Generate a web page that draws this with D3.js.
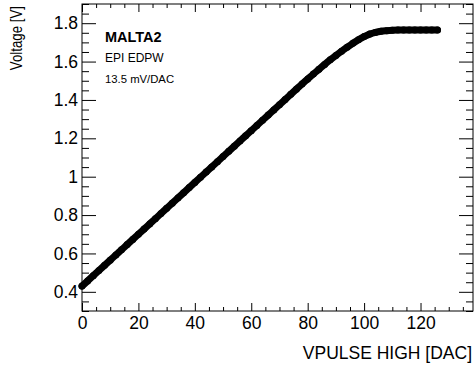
<!DOCTYPE html>
<html>
<head>
<meta charset="utf-8">
<script src="https://cdn.jsdelivr.net/npm/d3@7"></script>
<style>
  html, body { margin: 0; padding: 0; background: #fff; }
  svg { display: block; font-family: "Liberation Sans", Arial, Helvetica, sans-serif; }
</style>
</head>
<body>
<svg id="chart" width="474" height="370"></svg>
<script>
// DAC settings scanned (every 2 DAC)
const dacValues = [0, 2, 4, 6, 8, 10, 12, 14, 16, 18, 20, 22, 24, 26, 28, 30, 32, 34, 36, 38,
  40, 42, 44, 46, 48, 50, 52, 54, 56, 58, 60, 62, 64, 66, 68, 70, 72, 74, 76, 78,
  80, 82, 84, 86, 88, 90, 92, 94, 96, 98, 100, 102, 104, 106, 108, 110, 112, 114, 116, 118,
  120, 122, 124, 126];
// Measured output voltage [V]
const voltageValues = [0.430, 0.457, 0.484, 0.511, 0.538, 0.565, 0.592, 0.619, 0.646, 0.673,
  0.700, 0.727, 0.754, 0.781, 0.808, 0.835, 0.862, 0.889, 0.916, 0.943,
  0.970, 0.997, 1.024, 1.051, 1.078, 1.105, 1.132, 1.159, 1.186, 1.213,
  1.240, 1.267, 1.294, 1.321, 1.348, 1.375, 1.402, 1.429, 1.456, 1.483,
  1.509, 1.535, 1.560, 1.585, 1.609, 1.632, 1.654, 1.675, 1.695, 1.714,
  1.730, 1.743, 1.752, 1.758, 1.761, 1.763, 1.764, 1.764, 1.764, 1.764,
  1.764, 1.764, 1.764, 1.764];
const xTicks = [0, 20, 40, 60, 80, 100, 120];
const yTicks = [0.4, 0.6, 0.8, 1.0, 1.2, 1.4, 1.6, 1.8];
const xDomain = [0, 138.6];
const yDomain = [0.3, 1.9];
const annotations = ["MALTA2", "EPI EDPW", "13.5 mV/DAC"];
const xTitle = "VPULSE HIGH [DAC]";
const yTitle = "Voltage [V]";

const svg = d3.select("#chart");
const frame = { left: 82, right: 473, top: 4, bottom: 311 };

const x = d3.scaleLinear().domain(xDomain).range([frame.left, frame.right]);
const y = d3.scaleLinear().domain(yDomain).range([frame.bottom, frame.top]);

const xMinor = d3.range(0, 138.6, 5).filter(v => v % 20 !== 0);
const yMinor = d3.range(0.3, 1.9001, 0.05).map(v => +v.toFixed(2)).filter(v => Math.abs(v * 5 - Math.round(v * 5)) > 1e-6);

const tickStyle = g => {
  g.select(".domain").remove();
  g.selectAll("line").attr("stroke", "#000").attr("stroke-width", 1);
};
const labelStyle = g => g.selectAll("text").attr("font-size", 17.5).attr("fill", "#000")
  .attr("font-family", "Liberation Sans, Arial, sans-serif");

// bottom axis with labels
svg.append("g").attr("transform", `translate(0,${frame.bottom})`)
  .call(d3.axisBottom(x).tickValues(xTicks).tickSizeInner(-8).tickSizeOuter(0).tickPadding(6).tickFormat(d3.format("d")))
  .call(tickStyle).call(labelStyle);
svg.append("g").attr("transform", `translate(0,${frame.bottom})`)
  .call(d3.axisBottom(x).tickValues(xMinor).tickSizeInner(-4).tickSizeOuter(0).tickFormat(""))
  .call(tickStyle);
// top axis ticks
svg.append("g").attr("transform", `translate(0,${frame.top})`)
  .call(d3.axisTop(x).tickValues(xTicks).tickSizeInner(-8).tickSizeOuter(0).tickFormat(""))
  .call(tickStyle);
svg.append("g").attr("transform", `translate(0,${frame.top})`)
  .call(d3.axisTop(x).tickValues(xMinor).tickSizeInner(-4).tickSizeOuter(0).tickFormat(""))
  .call(tickStyle);

// left axis with labels
svg.append("g").attr("transform", `translate(${frame.left},0)`)
  .call(d3.axisLeft(y).tickValues(yTicks).tickSizeInner(-14).tickSizeOuter(0).tickPadding(4)
    .tickFormat(d => d3.format("~g")(d)))
  .call(tickStyle).call(labelStyle);
svg.append("g").attr("transform", `translate(${frame.left},0)`)
  .call(d3.axisLeft(y).tickValues(yMinor).tickSizeInner(-7).tickSizeOuter(0).tickFormat(""))
  .call(tickStyle);
// right axis ticks
svg.append("g").attr("transform", `translate(${frame.right},0)`)
  .call(d3.axisRight(y).tickValues(yTicks).tickSizeInner(-14).tickSizeOuter(0).tickFormat(""))
  .call(tickStyle);
svg.append("g").attr("transform", `translate(${frame.right},0)`)
  .call(d3.axisRight(y).tickValues(yMinor).tickSizeInner(-7).tickSizeOuter(0).tickFormat(""))
  .call(tickStyle);

// frame
svg.append("rect")
  .attr("x", frame.left).attr("y", frame.top)
  .attr("width", frame.right - frame.left).attr("height", frame.bottom - frame.top)
  .attr("fill", "none").attr("stroke", "#000").attr("stroke-width", 1);

// data: dense markers joined by a thick line
const pts = dacValues.map((d, i) => [d, voltageValues[i]]);
svg.append("path")
  .datum(pts)
  .attr("fill", "none").attr("stroke", "#000").attr("stroke-width", 7)
  .attr("stroke-linecap", "round").attr("stroke-linejoin", "round")
  .attr("d", d3.line().x(d => x(d[0])).y(d => y(d[1])).curve(d3.curveMonotoneX));
svg.append("g").selectAll("circle").data(pts).join("circle")
  .attr("cx", d => x(d[0])).attr("cy", d => y(d[1])).attr("r", 3.5).attr("fill", "#000");

// annotations
svg.append("text").attr("x", 105).attr("y", 42).attr("font-size", 14.5).attr("font-weight", "bold").text(annotations[0]);
svg.append("text").attr("x", 105).attr("y", 62).attr("font-size", 12).text(annotations[1]);
svg.append("text").attr("x", 105).attr("y", 83).attr("font-size", 11.3).text(annotations[2]);

// axis titles
svg.append("text").attr("x", 472).attr("y", 359).attr("text-anchor", "end").attr("font-size", 17.5).text(xTitle);
svg.append("text").attr("transform", "translate(22,6) rotate(-90) scale(0.83,1)").attr("text-anchor", "end")
  .attr("font-size", 16).text(yTitle);
</script>
</body>
</html>
